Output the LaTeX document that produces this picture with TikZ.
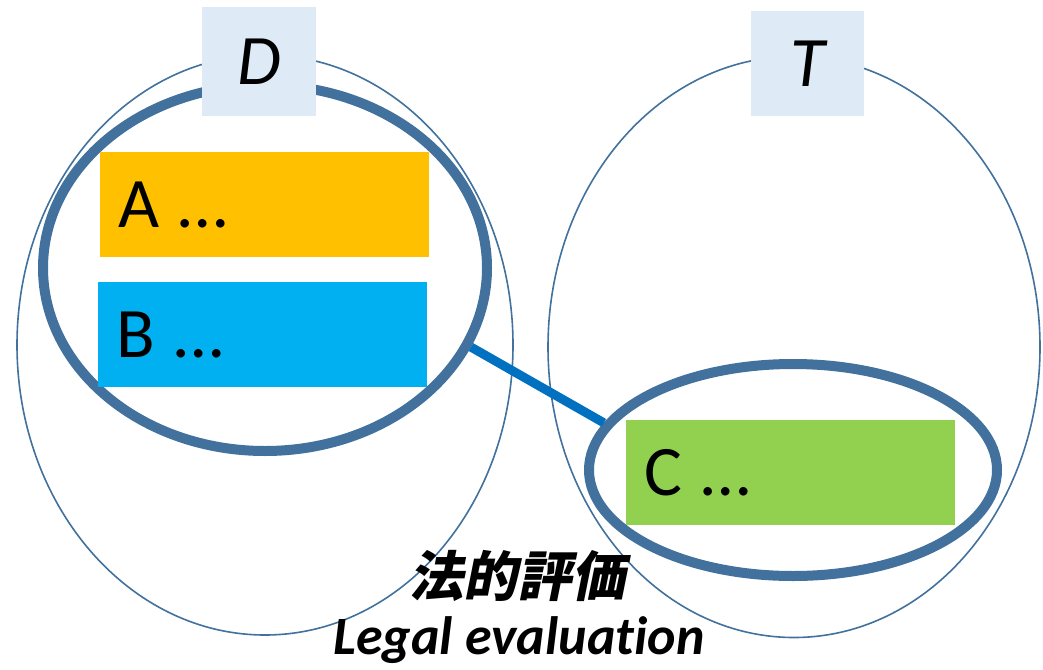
\documentclass[tikz,border=0pt]{standalone}
\usepackage{fontspec}
\setmainfont{Carlito}[Ligatures=NoCommon]
\newfontfamily\cjk{Noto Sans CJK JP}[FakeSlant=0.2]
\usepackage{tikz}
\usetikzlibrary{shapes.geometric}
\definecolor{ringblue}{HTML}{41719C}
\definecolor{linkblue}{HTML}{0070C0}
\definecolor{tagblue}{HTML}{DEEBF7}
\definecolor{itemorange}{HTML}{FFC000}
\definecolor{itemcyan}{HTML}{00B0F0}
\definecolor{itemgreen}{HTML}{92D050}
\begin{document}
\begin{tikzpicture}[x=1pt, y=-1pt]
                \tikzstyle{setoval} = [ellipse, draw=ringblue, line width=1.6pt, inner sep=0pt]
                \tikzstyle{ring} = [ellipse, draw=ringblue, line width=10pt, inner sep=0pt]
                \tikzstyle{itembox} = [rectangle, inner xsep=18pt, inner ysep=0pt, minimum height=105pt, text width=293pt, align=left, font=\fontsize{71}{80}\selectfont]
                \tikzstyle{settag} = [rectangle, fill=tagblue, inner sep=0pt, font=\fontsize{71}{80}\selectfont\itshape]
                \useasboundingbox (0,0) rectangle (1043,669);
                \node[setoval, minimum width=496pt, minimum height=580pt] (setD) at (265,345) {};
                \node[setoval, minimum width=492pt, minimum height=581pt] (setT) at (794,347) {};
                \node[ring, minimum width=444pt, minimum height=366pt] (ringD) at (265,268) {};
                \node[ring, minimum width=408pt, minimum height=212pt] (ringT) at (793,470) {};
                \draw[linkblue, line width=9pt] (ringD.-21) -- (ringT.166);
                \node[itembox, fill=itemorange] (itemA) at (264.5,204.5) {A\hspace{-4pt} …};
                \node[itembox, fill=itemcyan] (itemB) at (262.5,334.5) {B\hspace{-4pt} …};
                \node[itembox, fill=itemgreen] (itemC) at (790.5,472.5) {C\hspace{-4pt} …};
                \node[settag, minimum width=114pt, minimum height=109pt] (tagD) at (259,61.5) {D};
                \node[settag, minimum width=113pt, minimum height=105pt] (tagT) at (807.5,63.5) {T};
                \node[font=\cjk\bfseries\fontsize{54}{60}\selectfont, inner sep=0pt] (evalJ) at (517,576) {法的評価};
                \node[font=\bfseries\itshape\fontsize{54}{60}\selectfont, inner sep=0pt, anchor=base] (evalE) at (519,654) {Legal evaluation};
            \end{tikzpicture}
\end{document}
